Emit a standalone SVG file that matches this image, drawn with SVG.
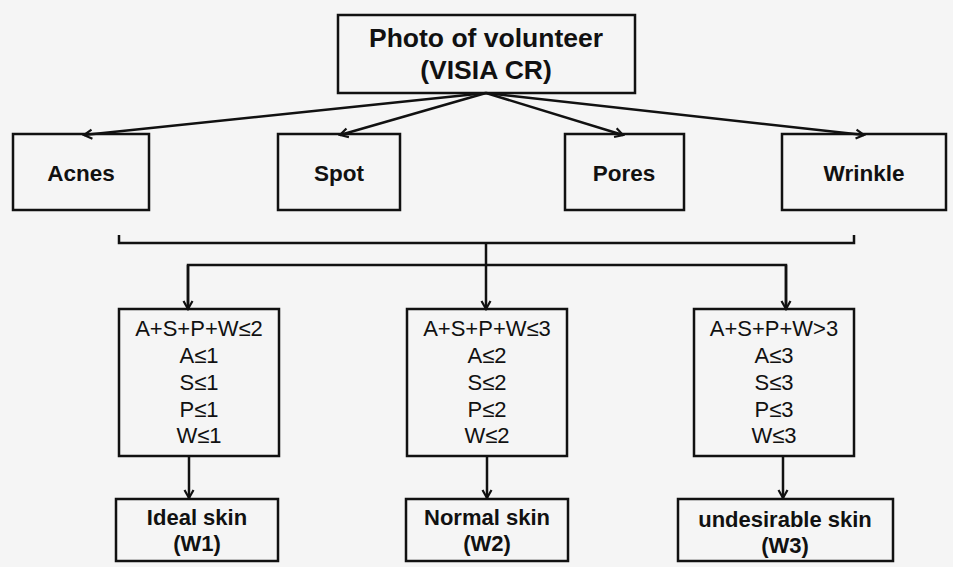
<svg xmlns="http://www.w3.org/2000/svg" width="953" height="567" viewBox="0 0 953 567">
<defs>
<style>
.box{fill:none;stroke:#111;stroke-width:2.5}
.ln{fill:none;stroke:#111;stroke-width:2.5}
.t{font-family:"Liberation Sans",Arial,sans-serif;fill:#111;text-anchor:middle}
.b{font-weight:bold}
</style>
<marker id="ah2" viewBox="0 0 12 12" refX="10" refY="6" markerWidth="12" markerHeight="12" orient="auto" markerUnits="userSpaceOnUse">
<path d="M2,1.5 L10,6 L2,10.5" fill="none" stroke="#111" stroke-width="2.2"/>
</marker>
</defs>
<rect width="953" height="567" fill="#f5f5f5"/>
<g id="connectors">
<path class="ln" marker-end="url(#ah2)" d="M486,93 L84,135"/>
<path class="ln" marker-end="url(#ah2)" d="M486,93 L340,135"/>
<path class="ln" marker-end="url(#ah2)" d="M486,93 L623,135"/>
<path class="ln" marker-end="url(#ah2)" d="M486,93 L864,135"/>
<path class="ln" d="M119,235 L119,243 L854,243 L854,235"/>
<path class="ln" d="M486,243 L486,265"/>
<path class="ln" d="M188,309 L188,265 L786,265 L786,309"/>
<path class="ln" marker-end="url(#ah2)" d="M188,265 L188,309"/>
<path class="ln" marker-end="url(#ah2)" d="M486,265 L486,309"/>
<path class="ln" marker-end="url(#ah2)" d="M786,265 L786,309"/>
<path class="ln" marker-end="url(#ah2)" d="M189,456 L189,498"/>
<path class="ln" marker-end="url(#ah2)" d="M487,456 L487,498"/>
<path class="ln" marker-end="url(#ah2)" d="M783,456 L783,498"/>
</g>
<g id="photo">
<rect class="box" x="338" y="15" width="297" height="78"/>
<text class="t b" x="486" y="47" font-size="26.5">Photo of volunteer</text>
<text class="t b" x="486" y="79" font-size="26.5">(VISIA CR)</text>
</g>
<g id="acnes">
<rect class="box" x="13" y="134" width="136" height="76"/>
<text class="t b" x="81" y="181" font-size="22.5">Acnes</text>
</g>
<g id="spot">
<rect class="box" x="278" y="134" width="122" height="76"/>
<text class="t b" x="339" y="181" font-size="22.5">Spot</text>
</g>
<g id="pores">
<rect class="box" x="565" y="134" width="119" height="76"/>
<text class="t b" x="624" y="181" font-size="22.5">Pores</text>
</g>
<g id="wrinkle">
<rect class="box" x="782" y="134" width="164" height="76"/>
<text class="t b" x="864" y="181" font-size="22.5">Wrinkle</text>
</g>
<g id="cond1">
<rect class="box" x="119" y="309" width="160" height="147"/>
<text class="t" font-size="22"><tspan x="199" y="336">A+S+P+W≤2</tspan><tspan x="199" y="363">A≤1</tspan><tspan x="199" y="390">S≤1</tspan><tspan x="199" y="416.5">P≤1</tspan><tspan x="199" y="443">W≤1</tspan></text>
</g>
<g id="cond2">
<rect class="box" x="407" y="309" width="160" height="147"/>
<text class="t" font-size="22"><tspan x="487" y="336">A+S+P+W≤3</tspan><tspan x="487" y="363">A≤2</tspan><tspan x="487" y="390">S≤2</tspan><tspan x="487" y="416.5">P≤2</tspan><tspan x="487" y="443">W≤2</tspan></text>
</g>
<g id="cond3">
<rect class="box" x="694" y="309" width="160" height="147"/>
<text class="t" font-size="22"><tspan x="774" y="336">A+S+P+W&gt;3</tspan><tspan x="774" y="363">A≤3</tspan><tspan x="774" y="390">S≤3</tspan><tspan x="774" y="416.5">P≤3</tspan><tspan x="774" y="443">W≤3</tspan></text>
</g>
<g id="ideal">
<rect class="box" x="116" y="499" width="162" height="62"/>
<text class="t b" font-size="22"><tspan x="197" y="525">Ideal skin</tspan><tspan x="197" y="551">(W1)</tspan></text>
</g>
<g id="normal">
<rect class="box" x="406" y="499" width="162" height="62"/>
<text class="t b" font-size="22"><tspan x="487" y="525">Normal skin</tspan><tspan x="487" y="551">(W2)</tspan></text>
</g>
<g id="undesirable">
<rect class="box" x="678" y="499" width="215" height="62"/>
<text class="t b" font-size="22"><tspan x="785" y="527">undesirable skin</tspan><tspan x="785" y="553">(W3)</tspan></text>
</g>
</svg>
